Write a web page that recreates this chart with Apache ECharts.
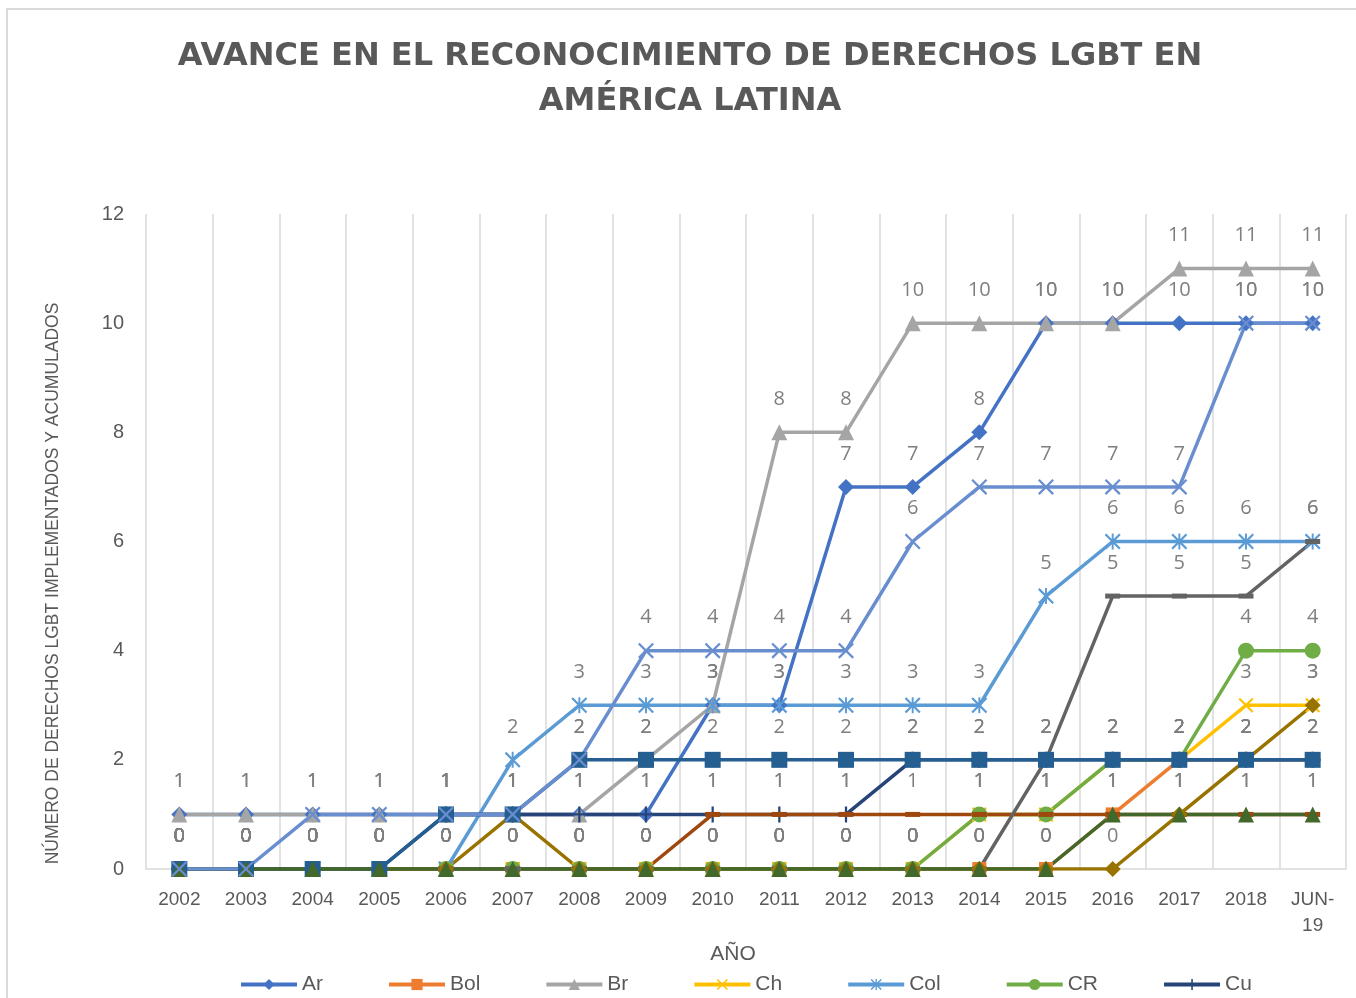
<!DOCTYPE html>
<html>
<head>
<meta charset="utf-8">
<script src="https://cdn.jsdelivr.net/npm/echarts@6/dist/echarts.min.js"></script>
<style>
  html, body { margin: 0; padding: 0; background: #fff; }
  #chart { width: 1356px; height: 998px; }
</style>
</head>
<body>
<div id="chart"></div>
<script>
// años (eje X)
const years = ['2002', '2003', '2004', '2005', '2006', '2007', '2008', '2009', '2010',
  '2011', '2012', '2013', '2014', '2015', '2016', '2017', '2018', 'JUN-19']

// derechos acumulados por país
const ar = [1, 1, 1, 1, 1, 1, 1, 1, 3, 3, 7, 7, 8, 10, 10, 10, 10, 10]
const bol = [0, 0, 0, 0, 0, 0, 0, 0, 0, 0, 0, 0, 0, 0, 1, 2, 2, 2]
const br = [1, 1, 1, 1, 1, 1, 1, 2, 3, 8, 8, 10, 10, 10, 10, 11, 11, 11]
const ch = [0, 0, 0, 0, 0, 0, 0, 0, 0, 0, 0, 0, 1, 1, 2, 2, 3, 3]
const col = [0, 0, 0, 0, 0, 2, 3, 3, 3, 3, 3, 3, 3, 5, 6, 6, 6, 6]
const cr = [0, 0, 0, 0, 0, 0, 0, 0, 0, 0, 0, 0, 1, 1, 2, 2, 4, 4]
const cu = [0, 0, 0, 0, 1, 1, 1, 1, 1, 1, 1, 2, 2, 2, 2, 2, 2, 2]
const ec = [0, 0, 0, 0, 0, 0, 0, 0, 1, 1, 1, 1, 1, 1, 1, 1, 1, 1]
const gu = [0, 0, 0, 0, 0, 0, 0, 0, 0, 0, 0, 0, 0, 2, 5, 5, 5, 6]
const mx = [0, 0, 0, 0, 0, 1, 0, 0, 0, 0, 0, 0, 0, 0, 0, 1, 2, 3]
const pa = [0, 0, 0, 0, 1, 1, 2, 2, 2, 2, 2, 2, 2, 2, 2, 2, 2, 2]
const pe = [0, 0, 0, 0, 0, 0, 0, 0, 0, 0, 0, 0, 0, 0, 1, 1, 1, 1]
const ur = [0, 0, 1, 1, 1, 1, 2, 4, 4, 4, 4, 6, 7, 7, 7, 7, 10, 10]

// formas de marcador estilo Excel
const xMark = 'path://M1,0 L10,9 L9,10 L0,1 Z M9,0 L10,1 L1,10 L0,9 Z'
const starMark = xMark + ' M4.4,0 L5.6,0 L5.6,10 L4.4,10 Z'
const plusMark = 'path://M4.3,0 L5.7,0 L5.7,10 L4.3,10 Z M0,4.3 L10,4.3 L10,5.7 L0,5.7 Z'
const dashMark = 'path://M0,0 L10,0 L10,3 L0,3 Z'

const chart = echarts.init(document.getElementById('chart'))
window.addEventListener('resize', function () {
  chart.resize()
})

function mkSeries (name, data, color, symbol, size) {
  const h = Array.isArray(size) ? size[1] : size
  return {
    name: name,
    type: 'line',
    data: data,
    symbol: symbol,
    symbolSize: size,
    showAllSymbol: true,
    lineStyle: { color: color, width: 3.5 },
    itemStyle: { color: color, borderWidth: 0 },
    label: {
      show: true,
      position: 'top',
      distance: 33 - h / 2 - 10,
      color: '#7f7f7f',
      fontSize: 20,
      fontFamily: 'Open Sans'
    },
    emphasis: { disabled: true },
    animation: false
  }
}

const option = {
  backgroundColor: '#fff',
  title: {
    text: 'AVANCE EN EL RECONOCIMIENTO DE DERECHOS LGBT EN\nAMÉRICA LATINA',
    left: 685,
    top: 29,
    textAlign: 'center',
    textStyle: {
      color: '#595959',
      fontSize: 32,
      fontWeight: 'bold',
      fontFamily: 'DejaVu Sans',
      lineHeight: 45
    }
  },
  graphic: [{
    type: 'rect',
    shape: { x: 7, y: 9, width: 1360, height: 1000 },
    style: { fill: 'none', stroke: '#d9d9d9', lineWidth: 2 },
    silent: true
  }],
  legend: {
    data: ['Ar', 'Bol', 'Br', 'Ch', 'Col', 'CR', 'Cu'],
    left: 234,
    top: 969,
    itemWidth: 56,
    itemHeight: 14,
    itemGap: 64,
    lineStyle: { width: 4 },
    textStyle: { color: '#595959', fontSize: 21, fontFamily: 'Liberation Sans' }
  },
  grid: {
    left: 146,
    right: 10,
    top: 214,
    bottom: 129
  },
  xAxis: {
    type: 'category',
    data: years,
    boundaryGap: true,
    name: 'AÑO',
    nameLocation: 'middle',
    nameGap: 75,
    nameTextStyle: { color: '#595959', fontSize: 21, fontFamily: 'Liberation Sans', padding: [0, 26, 0, 0] },
    axisLine: { lineStyle: { color: '#d9d9d9', width: 1.5 } },
    axisTick: { show: false },
    splitLine: { show: true, lineStyle: { color: '#d9d9d9', width: 1.5 } },
    axisLabel: {
      color: '#595959',
      fontSize: 19,
      fontFamily: 'Liberation Sans',
      margin: 18,
      interval: 0,
      lineHeight: 26,
      formatter: function (v) { return v.replace('-', '-\n') }
    }
  },
  yAxis: {
    type: 'value',
    min: 0,
    max: 12,
    interval: 2,
    name: 'NÚMERO DE DERECHOS LGBT IMPLEMENTADOS Y ACUMULADOS',
    nameLocation: 'middle',
    nameGap: 84,
    nameTextStyle: { color: '#595959', fontSize: 17.5, fontFamily: 'Liberation Sans', padding: [0, 84, 0, 0] },
    axisLine: { show: false },
    axisTick: { show: false },
    splitLine: { show: false },
    axisLabel: { color: '#595959', fontSize: 20, fontFamily: 'Liberation Sans', margin: 22 }
  },
  series: [
    mkSeries('Ar', ar, '#4472c4', 'diamond', 16),
    mkSeries('Bol', bol, '#ed7d31', 'rect', 14),
    mkSeries('Br', br, '#a5a5a5', 'triangle', 16),
    mkSeries('Ch', ch, '#ffc000', xMark, 15),
    mkSeries('Col', col, '#5b9bd5', starMark, 16),
    mkSeries('CR', cr, '#70ad47', 'circle', 16),
    mkSeries('Cu', cu, '#264478', plusMark, 16),
    mkSeries('Ec', ec, '#9e480e', dashMark, [15, 5]),
    mkSeries('Gu', gu, '#636363', dashMark, [15, 5]),
    mkSeries('Mx', mx, '#997300', 'diamond', 16),
    mkSeries('Pa', pa, '#255e91', 'rect', 16),
    mkSeries('Pe', pe, '#43682b', 'triangle', 16),
    mkSeries('Ur', ur, '#698ed0', xMark, 16)
  ]
}

chart.setOption(option)
</script>
</body>
</html>
